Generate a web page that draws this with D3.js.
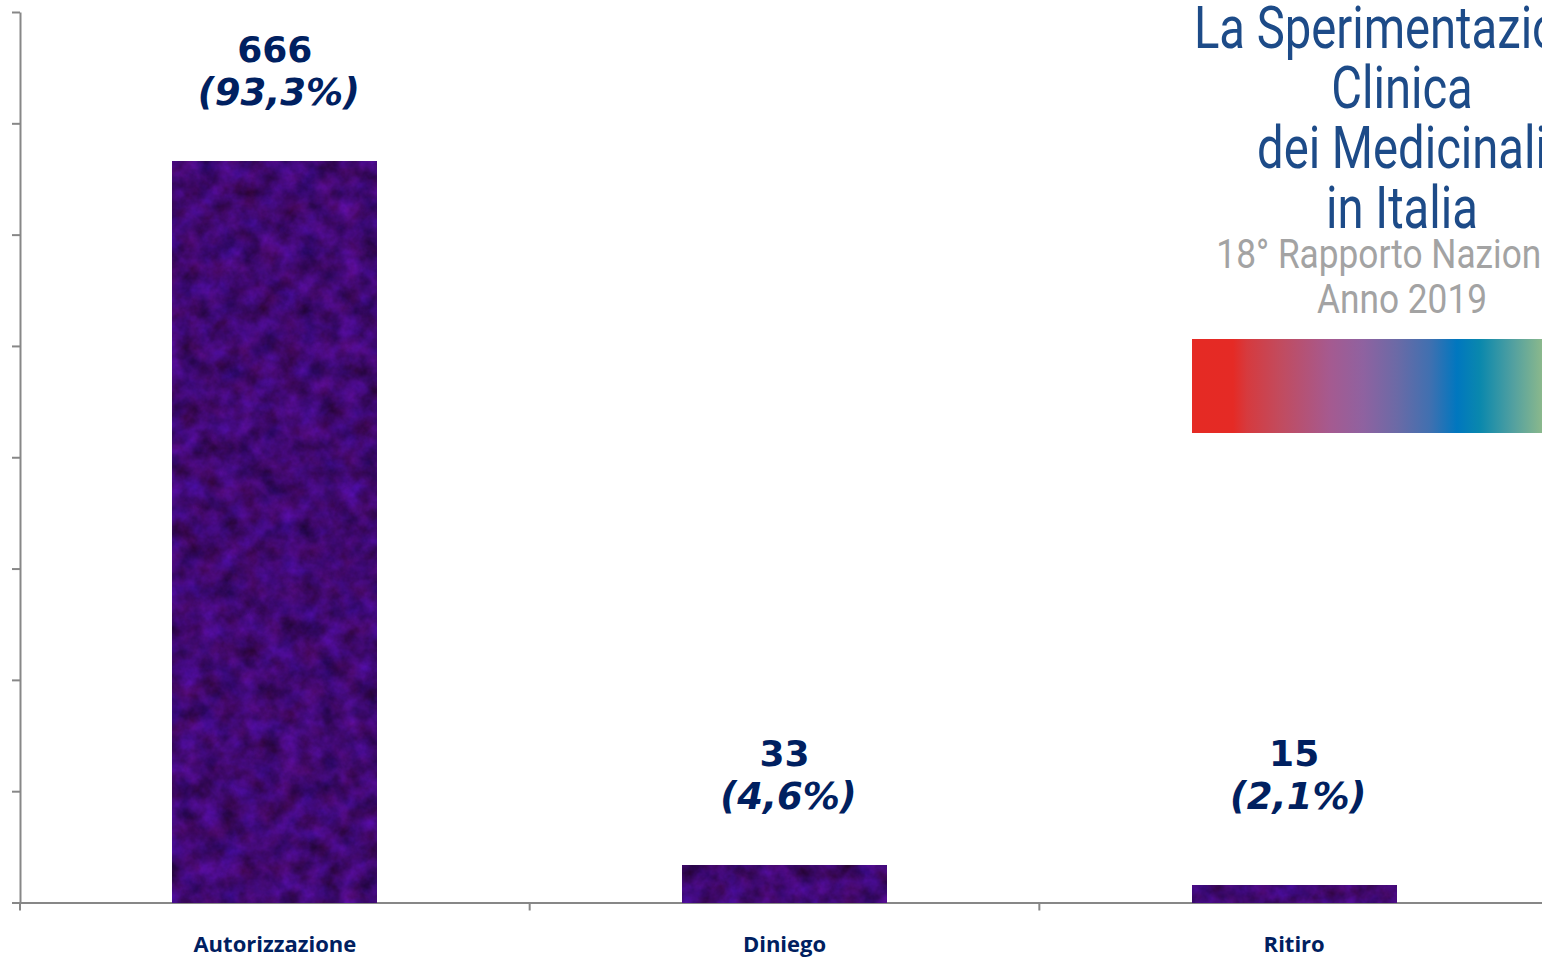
<!DOCTYPE html>
<html>
<head>
<meta charset="utf-8">
<script src="https://cdn.jsdelivr.net/npm/d3@7"></script>
<style>
    html, body { margin: 0; padding: 0; background: #fff; overflow: hidden; }
    svg { display: block; }
</style>
</head>
<body>
<div id="chart"></div>
<script>
const categories = ['Autorizzazione', 'Diniego', 'Ritiro'];
const values = [666, 33, 15];
const percentLabels = ['(93,3%)', '(4,6%)', '(2,1%)'];
const yTickValues = [0, 100, 200, 300, 400, 500, 600, 700, 800];

const titleLines = ['La Sperimentazione', 'Clinica', 'dei Medicinali', 'in Italia'];
const subtitleLines = ['18° Rapporto Nazionale', 'Anno 2019'];
const bandStops = [
    [0, '#e52a24'], [0.117, '#e52a25'], [0.157, '#d63a3e'], [0.251, '#c24b5e'],
    [0.394, '#a55a90'], [0.489, '#8f62a0'], [0.586, '#6b6aa6'], [0.68, '#4070b0'],
    [0.757, '#0077bf'], [0.823, '#0a88ad'], [0.917, '#52a0a0'], [1, '#8ab88c']
];

const width = 1542;
const height = 958;
const margin = { left: 20, top: 12, right: -7, bottom: 55.5 };
const axisColor = '#878787';
const navy = '#002060';

const svg = d3.select('#chart')
    .append('svg')
    .attr('width', width)
    .attr('height', height);

const defs = svg.append('defs');

// mottled purple fill of the bars
const tex = defs.append('filter')
    .attr('id', 'tex')
    .attr('x', 0).attr('y', 0)
    .attr('width', 1).attr('height', 1)
    .attr('color-interpolation-filters', 'sRGB');
tex.append('feTurbulence')
    .attr('type', 'fractalNoise')
    .attr('baseFrequency', 0.05)
    .attr('numOctaves', 4)
    .attr('seed', 7)
    .attr('result', 'noise');
tex.append('feColorMatrix')
    .attr('in', 'noise')
    .attr('type', 'matrix')
    .attr('values', [
        '0.25 0.12 0 0 0.065',
        '0.05 0 0 0 0.01',
        '0.5 0 0.15 0 0.12',
        '0 0 0 0 1'
    ].join(' '));

const grad = defs.append('linearGradient')
    .attr('id', 'band')
    .attr('gradientUnits', 'userSpaceOnUse')
    .attr('x1', 1192).attr('x2', 1542)
    .attr('y1', 0).attr('y2', 0);
grad.selectAll('stop')
    .data(bandStops)
    .enter()
    .append('stop')
    .attr('offset', d => d[0])
    .attr('stop-color', d => d[1]);

const x = d3.scaleBand()
    .domain(categories)
    .range([margin.left, width - margin.right])
    .padding(0);

const y = d3.scaleLinear()
    .domain([0, 800])
    .range([height - margin.bottom, margin.top]);

const barW = x.bandwidth() * 0.4;
const barX = d => x(d) + (x.bandwidth() - barW) / 2;

// y axis
const yAxis = svg.append('g')
    .attr('transform', `translate(${margin.left},0)`)
    .call(d3.axisLeft(y).tickValues(yTickValues).tickFormat('').tickSize(8).tickSizeOuter(0));

// x axis
const xAxis = svg.append('g')
    .attr('transform', `translate(0,${y(0)})`)
    .call(d3.axisBottom(x).tickSize(0).tickSizeOuter(0));

xAxis.selectAll('.tick text')
    .attr('y', 49)
    .attr('dy', 0)
    .style('font-family', '"Open Sans", sans-serif')
    .style('font-weight', 700)
    .style('font-size', '22px')
    .style('fill', navy);

xAxis.selectAll('.bound')
    .data(categories.map(d => x(d)).concat([x.range()[1]]))
    .enter()
    .append('line')
    .attr('class', 'bound')
    .attr('x1', d => d).attr('x2', d => d)
    .attr('y1', 0).attr('y2', 8);

[yAxis, xAxis].forEach(g => {
    g.selectAll('path.domain, line')
        .attr('stroke', axisColor)
        .attr('stroke-width', 2);
});

// bars
const data = categories.map((c, i) => ({ cat: c, value: values[i], pct: percentLabels[i] }));

svg.selectAll('.bar')
    .data(data)
    .enter()
    .append('rect')
    .attr('class', 'bar')
    .attr('x', d => barX(d.cat))
    .attr('width', barW)
    .attr('y', d => y(d.value))
    .attr('height', d => y(0) - y(d.value))
    .attr('fill', '#3f0b74')
    .attr('filter', 'url(#tex)');

// value labels, kept clear of the axis for the small bars
const anchor = d => Math.min(y(d.value), y(0) - 38);

const lab = svg.selectAll('.lab')
    .data(data)
    .enter()
    .append('g')
    .attr('class', 'lab')
    .attr('transform', d => `translate(${x(d.cat) + x.bandwidth() / 2},${anchor(d)})`)
    .style('font-family', '"DejaVu Sans", Verdana, sans-serif')
    .style('font-weight', 700)
    .style('font-size', '36px')
    .style('fill', navy)
    .attr('text-anchor', 'middle');

lab.append('text')
    .attr('y', -99)
    .text(d => d.value);

lab.append('text')
    .attr('y', -56)
    .attr('x', 4)
    .style('font-style', 'italic')
    .style('font-size', '37px')
    .text(d => d.pct);

// report logo, top right
const logo = svg.append('g')
    .style('font-family', 'Roboto, sans-serif');

logo.selectAll('.title')
    .data(titleLines)
    .enter()
    .append('text')
    .attr('class', 'title')
    .attr('text-anchor', 'middle')
    .attr('transform', (d, i) => `translate(1402,${48 + i * 60}) scale(0.8,1)`)
    .style('font-size', '59px')
    .style('fill', '#1d4b88')
    .text(d => d);

logo.selectAll('.sub')
    .data(subtitleLines)
    .enter()
    .append('text')
    .attr('class', 'sub')
    .attr('text-anchor', 'middle')
    .attr('transform', (d, i) => `translate(1402,${268 + i * 45}) scale(0.86,1)`)
    .style('font-size', '41px')
    .style('fill', '#a3a3a3')
    .text(d => d);

logo.append('rect')
    .attr('x', 1192)
    .attr('y', 339)
    .attr('width', 430)
    .attr('height', 94)
    .attr('fill', 'url(#band)');
</script>
</body>
</html>
